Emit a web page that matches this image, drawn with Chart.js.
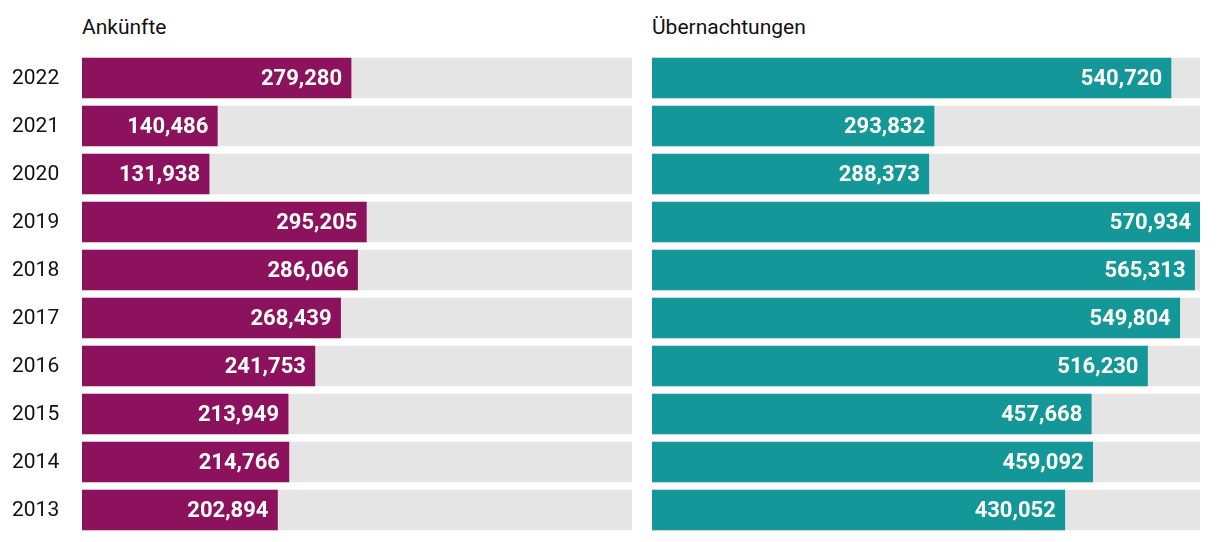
<!DOCTYPE html>
<html>
<head>
<meta charset="utf-8">
<script src="https://cdn.jsdelivr.net/npm/chart.js@4"></script>
<style>
  body { margin: 0; background: #fff; width: 1220px; height: 542px; position: relative; overflow: hidden; font-family: Roboto, "Noto Sans", sans-serif; }
  .title { position: absolute; top: 15px; font-size: 21px; color: #111; }
  canvas { position: absolute; top: 0; }
</style>
</head>
<body>
<div class="title" style="left:82px">Ankünfte</div>
<div class="title" style="left:652px">Übernachtungen</div>
<canvas id="left" style="left:0px"></canvas>
<canvas id="right" style="left:652px"></canvas>
<script>
// Data
const years = ['2022', '2021', '2020', '2019', '2018', '2017', '2016', '2015', '2014', '2013'];
const arrivals = [279280, 140486, 131938, 295205, 286066, 268439, 241753, 213949, 214766, 202894];
const overnights = [540720, 293832, 288373, 570934, 565313, 549804, 516230, 457668, 459092, 430052];

const maxValue = Math.max(...arrivals, ...overnights);
const fontFamily = 'Roboto, "Noto Sans", sans-serif';

// Write the value inside the end of each bar, and the years on the left chart
const barLabels = {
    id: 'barLabels',
    afterDatasetsDraw(chart, args, opts) {
        const ctx = chart.ctx;
        const meta = chart.getDatasetMeta(0);
        const yScale = chart.scales.y;
        ctx.save();
        ctx.textBaseline = 'middle';
        meta.data.forEach((bar, i) => {
            const v = chart.data.datasets[0].data[i];
            ctx.font = 'bold 22px ' + fontFamily;
            ctx.fillStyle = '#fff';
            ctx.textAlign = 'right';
            ctx.fillText(v.toLocaleString('en-US'), bar.x - 9, bar.y + 1);
            if (opts.years) {
                ctx.font = '21px ' + fontFamily;
                ctx.fillStyle = '#111';
                ctx.textAlign = 'left';
                ctx.fillText(chart.data.labels[i], 12, yScale.getPixelForValue(i) + 1);
            }
        });
        ctx.restore();
    }
};

function makeChart(id, width, values, color, showYears) {
    const canvas = document.getElementById(id);
    canvas.width = width;
    canvas.height = 542;
    return new Chart(canvas.getContext('2d'), {
        type: 'bar',
        data: {
            labels: years,
            datasets: [{
                data: values,
                backgroundColor: color,
                grouped: false,
                barThickness: 40
            }, {
                data: years.map(() => maxValue),
                backgroundColor: '#e5e5e5',
                grouped: false,
                barThickness: 40
            }]
        },
        options: {
            indexAxis: 'y',
            responsive: false,
            animation: false,
            layout: {
                padding: { top: 54, bottom: 8, left: showYears ? 82 : 0, right: 0 }
            },
            plugins: {
                legend: { display: false },
                tooltip: { enabled: false },
                barLabels: { years: showYears }
            },
            scales: {
                x: {
                    display: false,
                    min: 0,
                    max: maxValue
                },
                y: {
                    display: false
                }
            }
        },
        plugins: [barLabels]
    });
}

makeChart('left', 632, arrivals, '#8c125e', true);
makeChart('right', 548, overnights, '#149799', false);
</script>
</body>
</html>
